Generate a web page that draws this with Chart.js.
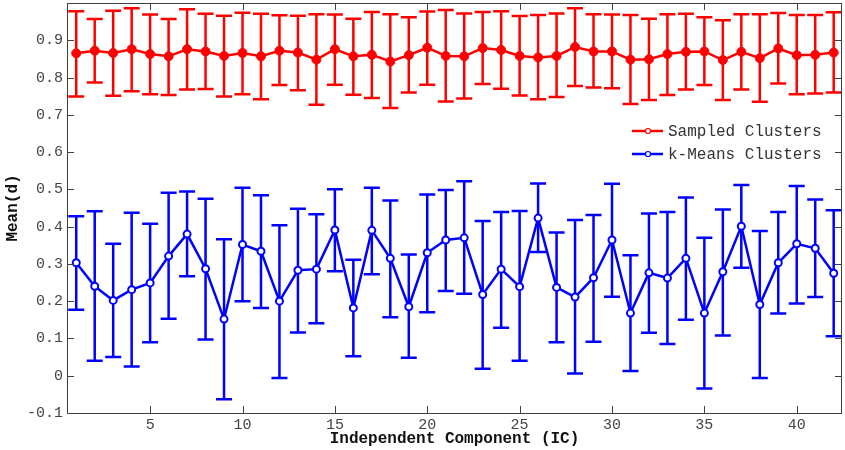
<!DOCTYPE html>
<html>
<head>
<meta charset="utf-8">
<script src="https://cdn.jsdelivr.net/npm/chart.js@4"></script>
<style>
  html, body { margin: 0; padding: 0; background: #fff; }
  #wrap { width: 845px; height: 450px; }
</style>
</head>
<body>
<div id="wrap"><canvas id="chart" width="845" height="450"></canvas></div>
<script>
// Independent components
const ic = [1, 2, 3, 4, 5, 6, 7, 8, 9, 10, 11, 12, 13, 14, 15, 16, 17, 18, 19, 20, 21,
  22, 23, 24, 25, 26, 27, 28, 29, 30, 31, 32, 33, 34, 35, 36, 37, 38, 39, 40, 41, 42];

// Sampled clusters: mean and error bar ends
const sampledMean = [0.865, 0.872, 0.866, 0.876, 0.863, 0.857, 0.876, 0.870, 0.858, 0.866, 0.857,
  0.872, 0.867, 0.848, 0.876, 0.857, 0.861, 0.843, 0.860, 0.880, 0.858, 0.857, 0.879, 0.874,
  0.858, 0.854, 0.858, 0.882, 0.870, 0.870, 0.848, 0.849, 0.863, 0.869, 0.870, 0.847, 0.869,
  0.852, 0.878, 0.860, 0.861, 0.867];
const sampledHigh = [0.978, 0.957, 0.979, 0.986, 0.969, 0.957, 0.983, 0.971, 0.966, 0.974, 0.971,
  0.967, 0.966, 0.970, 0.969, 0.958, 0.976, 0.970, 0.962, 0.977, 0.981, 0.972, 0.976, 0.978,
  0.965, 0.968, 0.972, 0.986, 0.970, 0.969, 0.968, 0.958, 0.970, 0.971, 0.962, 0.954, 0.970,
  0.970, 0.973, 0.968, 0.968, 0.975];
const sampledLow = [0.749, 0.787, 0.751, 0.763, 0.755, 0.753, 0.768, 0.769, 0.749, 0.755, 0.742,
  0.780, 0.766, 0.727, 0.781, 0.754, 0.745, 0.718, 0.760, 0.781, 0.736, 0.744, 0.783, 0.770,
  0.752, 0.742, 0.748, 0.777, 0.773, 0.771, 0.729, 0.740, 0.753, 0.768, 0.780, 0.740, 0.768,
  0.735, 0.784, 0.755, 0.757, 0.760];

// k-Means clusters: mean and error bar ends
const kmeansMean = [0.303, 0.240, 0.202, 0.231, 0.249, 0.321, 0.380, 0.287, 0.152, 0.352, 0.334,
  0.200, 0.283, 0.286, 0.391, 0.182, 0.390, 0.315, 0.185, 0.330, 0.364, 0.370, 0.218, 0.286,
  0.239, 0.423, 0.237, 0.211, 0.263, 0.364, 0.168, 0.276, 0.262, 0.315, 0.168, 0.279, 0.401,
  0.191, 0.303, 0.354, 0.342, 0.275];
const kmeansHigh = [0.428, 0.441, 0.354, 0.437, 0.408, 0.491, 0.494, 0.475, 0.366, 0.504, 0.484,
  0.404, 0.448, 0.433, 0.500, 0.311, 0.504, 0.470, 0.325, 0.486, 0.498, 0.522, 0.415, 0.439,
  0.442, 0.516, 0.384, 0.418, 0.431, 0.515, 0.323, 0.435, 0.439, 0.478, 0.370, 0.446, 0.512,
  0.388, 0.439, 0.509, 0.473, 0.444];
const kmeansLow = [0.177, 0.040, 0.050, 0.025, 0.090, 0.153, 0.267, 0.097, -0.063, 0.200, 0.182,
  -0.006, 0.116, 0.141, 0.280, 0.052, 0.272, 0.157, 0.048, 0.170, 0.227, 0.220, 0.019, 0.129,
  0.040, 0.332, 0.090, 0.006, 0.091, 0.212, 0.013, 0.115, 0.085, 0.150, -0.034, 0.108, 0.290,
  -0.006, 0.167, 0.194, 0.211, 0.106];

const xTicks = [5, 10, 15, 20, 25, 30, 35, 40];
const yTicks = [-0.1, 0, 0.1, 0.2, 0.3, 0.4, 0.5, 0.6, 0.7, 0.8, 0.9];

const MONO = "'Liberation Mono', 'DejaVu Sans Mono', monospace";
const AXIS_COLOR = "#404040";

const toPoints = (ys) => ic.map((x, i) => ({ x: x, y: ys[i] }));

// vertical error bars with caps, drawn under the lines
const errorBars = {
  id: "errorBars",
  beforeDatasetsDraw(chart) {
    const { ctx, scales } = chart;
    chart.data.datasets.forEach((ds) => {
      ctx.save();
      ctx.strokeStyle = ds.borderColor;
      ctx.lineWidth = 2.5;
      ds.data.forEach((pt, i) => {
        const px = scales.x.getPixelForValue(pt.x);
        const top = scales.y.getPixelForValue(ds.high[i]);
        const bot = scales.y.getPixelForValue(ds.low[i]);
        ctx.beginPath();
        ctx.moveTo(px, top);
        ctx.lineTo(px, bot);
        ctx.moveTo(px - 8, top);
        ctx.lineTo(px + 8, top);
        ctx.moveTo(px - 8, bot);
        ctx.lineTo(px + 8, bot);
        ctx.stroke();
      });
      ctx.restore();
    });
  },
};

// box around the axes with inward ticks, plus the legend inside the plot
const frameAndLegend = {
  id: "frameAndLegend",
  afterDraw(chart) {
    const { ctx, chartArea: a, scales } = chart;
    ctx.save();
    ctx.strokeStyle = AXIS_COLOR;
    ctx.lineWidth = 1;
    ctx.strokeRect(a.left + 0.5, a.top + 0.5, a.right - a.left - 1, a.bottom - a.top);
    ctx.beginPath();
    xTicks.forEach((v) => {
      const px = Math.round(scales.x.getPixelForValue(v)) + 0.5;
      ctx.moveTo(px, a.bottom);
      ctx.lineTo(px, a.bottom - 7);
      ctx.moveTo(px, a.top);
      ctx.lineTo(px, a.top + 7);
    });
    yTicks.forEach((v) => {
      const py = Math.round(scales.y.getPixelForValue(v)) + 0.5;
      ctx.moveTo(a.left, py);
      ctx.lineTo(a.left + 7, py);
      ctx.moveTo(a.right, py);
      ctx.lineTo(a.right - 7, py);
    });
    ctx.stroke();

    // legend
    const lx = a.right - 210;
    let ly = a.top + 128;
    ctx.font = "16px " + MONO;
    ctx.textBaseline = "middle";
    ctx.textAlign = "left";
    chart.data.datasets.forEach((ds) => {
      ctx.strokeStyle = ds.borderColor;
      ctx.lineWidth = 2.5;
      ctx.beginPath();
      ctx.moveTo(lx, ly);
      ctx.lineTo(lx + 31, ly);
      ctx.stroke();
      ctx.lineWidth = 1.2;
      ctx.fillStyle = "#fff";
      ctx.beginPath();
      ctx.arc(lx + 16, ly, 2.5, 0, Math.PI * 2);
      ctx.fill();
      ctx.stroke();
      ctx.fillStyle = "#333";
      ctx.fillText(ds.label, lx + 36, ly + 1);
      ly += 23;
    });
    ctx.restore();
  },
};

const noEdgePadding = (scale) => {
  scale.paddingTop = 0;
  scale.paddingBottom = 0;
  scale.paddingLeft = 0;
  scale.paddingRight = 0;
};

new Chart(document.getElementById("chart"), {
  type: "line",
  data: {
    datasets: [
      {
        label: "Sampled Clusters",
        data: toPoints(sampledMean),
        high: sampledHigh,
        low: sampledLow,
        borderColor: "#ff0000",
        backgroundColor: "#ff0000",
        borderWidth: 2.5,
        pointRadius: 4.5,
        pointBorderWidth: 1,
        pointBackgroundColor: "#ff0000",
        tension: 0,
      },
      {
        label: "k-Means Clusters",
        data: toPoints(kmeansMean),
        high: kmeansHigh,
        low: kmeansLow,
        borderColor: "#0000ff",
        backgroundColor: "#ffffff",
        borderWidth: 2.5,
        pointRadius: 3.5,
        pointBorderWidth: 2,
        pointBackgroundColor: "#ffffff",
        tension: 0,
      },
    ],
  },
  options: {
    responsive: false,
    animation: false,
    events: [],
    clip: false,
    layout: { autoPadding: false, padding: { top: 3, right: 3, left: 0, bottom: 0 } },
    plugins: {
      legend: { display: false },
      tooltip: { enabled: false },
    },
    scales: {
      x: {
        type: "linear",
        min: 0.5,
        max: 42.45,
        grid: { display: false, drawTicks: false },
        border: { display: false },
        afterBuildTicks: (scale) => {
          scale.ticks = xTicks.map((v) => ({ value: v }));
        },
        afterFit: (scale) => {
          scale.height = 37;
          noEdgePadding(scale);
        },
        ticks: {
          padding: 3,
          color: "#444",
          font: { family: MONO, size: 15 },
          maxRotation: 0,
          autoSkip: false,
          callback: (v) => String(v),
        },
        title: {
          display: true,
          text: "Independent Component (IC)",
          color: "#111",
          padding: { top: 0, bottom: 1 },
          font: { family: MONO, size: 16, weight: "bold" },
        },
      },
      y: {
        min: -0.1,
        max: 1.0,
        grid: { display: false, drawTicks: false },
        border: { display: false },
        afterBuildTicks: (scale) => {
          scale.ticks = yTicks.map((v) => ({ value: v }));
        },
        afterFit: (scale) => {
          scale.width = 67;
          noEdgePadding(scale);
        },
        ticks: {
          padding: 4,
          color: "#444",
          font: { family: MONO, size: 15 },
          autoSkip: false,
          callback: (v) => String(Math.round(v * 10) / 10),
        },
        title: {
          display: true,
          text: "Mean(d)",
          color: "#111",
          padding: { top: 3, bottom: 0 },
          font: { family: MONO, size: 16, weight: "bold" },
        },
      },
    },
  },
  plugins: [errorBars, frameAndLegend],
});
</script>
</body>
</html>
